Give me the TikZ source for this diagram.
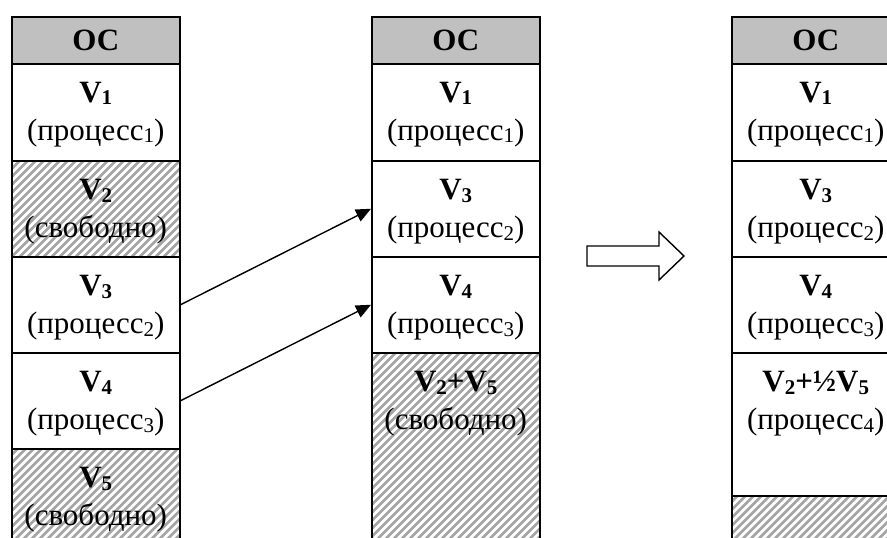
\documentclass[tikz,border=0pt]{standalone}
\usepackage{fontspec}
\setmainfont{Liberation Serif}
\usetikzlibrary{arrows.meta}
\definecolor{osgray}{RGB}{192,192,192}
\definecolor{hatchgray}{RGB}{165,165,165}
\newcommand{\sbs}[1]{\raisebox{-2.5pt}{\fontsize{21}{21}\selectfont #1}}
\begin{document}
\begin{tikzpicture}[x=1pt,y=-1pt,
  cell/.style={draw=black,line width=1.5pt,minimum width=168pt,inner sep=0pt,anchor=north west},
  oscell/.style={cell,fill=osgray,minimum height=47pt},
  freecell/.style={cell,path picture={
      \foreach \k in {-216,-208,...,176}
        \draw[hatchgray,line width=2.8pt]
          ([xshift=\k pt]path picture bounding box.south west) -- ++(260pt,260pt);}},
  txt/.style={font=\fontsize{31}{38}\selectfont,align=center,inner sep=0pt,anchor=north},
  ostxt/.style={font=\fontsize{31}{38}\selectfont\bfseries,inner sep=0pt},
  conn/.style={line width=1.4pt,-{Triangle[length=15pt,width=13pt]}},
  blockarrow/.style={draw=black,line width=1.4pt,fill=white,line join=miter}]
\useasboundingbox (0,0) rectangle (887,538);
\clip (0,0) rectangle (887,538);
\fill[white] (0,0) rectangle (887,538);
% ---------- column 1 ----------
\node[oscell] (aos) at (11,16) {};
\node[cell,minimum height=97pt] (a1) at (11,63) {};
\node[freecell,minimum height=96pt] (a2) at (11,160) {};
\node[cell,minimum height=96pt] (a3) at (11,256) {};
\node[cell,minimum height=96pt] (a4) at (11,352) {};
\node[freecell,minimum height=110pt] (a5) at (11,448) {};
\node[ostxt] (taos) at (aos.center) {ОС};
\node[txt] (ta1) at ([yshift=-19pt]a1.north) {\textbf{V\sbs{1}}\\(процесс\sbs{1})};
\node[txt] (ta2) at ([yshift=-19pt]a2.north) {\textbf{V\sbs{2}}\\(свободно)};
\node[txt] (ta3) at ([yshift=-19pt]a3.north) {\textbf{V\sbs{3}}\\(процесс\sbs{2})};
\node[txt] (ta4) at ([yshift=-19pt]a4.north) {\textbf{V\sbs{4}}\\(процесс\sbs{3})};
\node[txt] (ta5) at ([yshift=-19pt]a5.north) {\textbf{V\sbs{5}}\\(свободно)};
% ---------- column 2 ----------
\node[oscell] (bos) at (371,16) {};
\node[cell,minimum height=97pt] (b1) at (371,63) {};
\node[cell,minimum height=96pt] (b3) at (371,160) {};
\node[cell,minimum height=96pt] (b4) at (371,256) {};
\node[freecell,minimum height=200pt] (b25) at (371,352) {};
\node[ostxt] (tbos) at (bos.center) {ОС};
\node[txt] (tb1) at ([yshift=-19pt]b1.north) {\textbf{V\sbs{1}}\\(процесс\sbs{1})};
\node[txt] (tb3) at ([yshift=-19pt]b3.north) {\textbf{V\sbs{3}}\\(процесс\sbs{2})};
\node[txt] (tb4) at ([yshift=-19pt]b4.north) {\textbf{V\sbs{4}}\\(процесс\sbs{3})};
\node[txt] (tb25) at ([yshift=-19pt]b25.north) {\textbf{V\sbs{2}+V\sbs{5}}\\(свободно)};
% ---------- column 3 ----------
\node[oscell] (cos) at (731,16) {};
\node[cell,minimum height=97pt] (c1) at (731,63) {};
\node[cell,minimum height=96pt] (c3) at (731,160) {};
\node[cell,minimum height=96pt] (c4) at (731,256) {};
\node[cell,minimum height=143pt] (c25) at (731,352) {};
\node[freecell,minimum height=70pt] (cfree) at (731,495) {};
\node[ostxt] (tcos) at (cos.center) {ОС};
\node[txt] (tc1) at ([yshift=-19pt]c1.north) {\textbf{V\sbs{1}}\\(процесс\sbs{1})};
\node[txt] (tc3) at ([yshift=-19pt]c3.north) {\textbf{V\sbs{3}}\\(процесс\sbs{2})};
\node[txt] (tc4) at ([yshift=-19pt]c4.north) {\textbf{V\sbs{4}}\\(процесс\sbs{3})};
\node[txt] (tc25) at ([yshift=-19pt]c25.north) {\textbf{V\sbs{2}+½V\sbs{5}}\\(процесс\sbs{4})};
% ---------- connectors ----------
\draw[conn] (a3.east) -- (b3.west);
\draw[conn] (a4.east) -- (b4.west);
% ---------- block arrow ----------
\draw[blockarrow] (587,246) -- (659,246) -- (659,232) -- (684,256) -- (659,280) -- (659,266) -- (587,266) -- cycle;
\end{tikzpicture}
\end{document}
